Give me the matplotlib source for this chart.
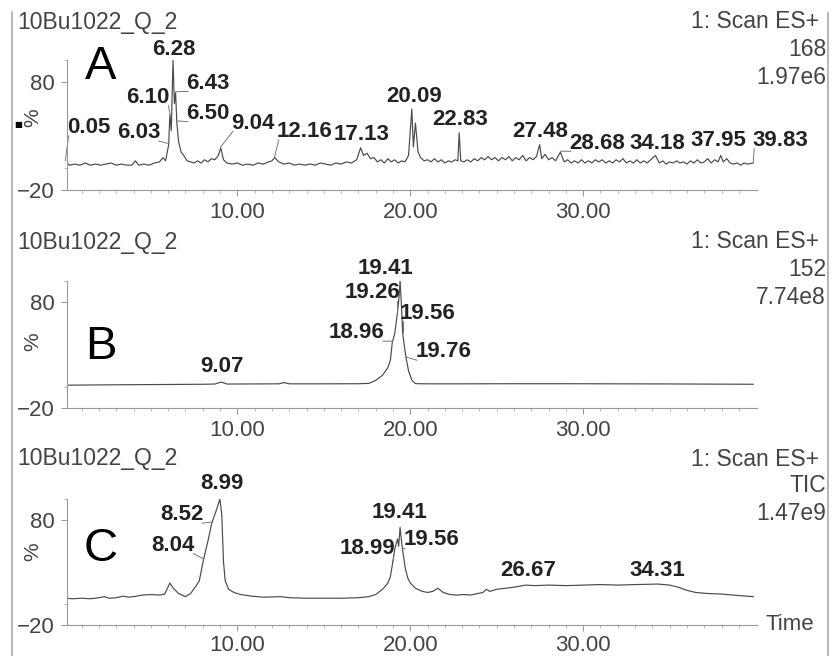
import matplotlib.pyplot as plt
from matplotlib.ticker import FixedLocator, FixedFormatter

plt.rcParams['font.family'] = ['Liberation Sans', 'DejaVu Sans']

# run / trace header info
run_name = '10Bu1022_Q_2'
scan_mode = '1: Scan ES+'
panel_letters = ['A', 'B', 'C']
channels = ['168', '152', 'TIC']
max_counts = ['1.97e6', '7.74e8', '1.47e9']
x_ticks = [10.0, 20.0, 30.0]
y_ticks = [-20, 80]

# m/z 168 chromatogram (time in min, relative intensity %)
a_time = [0.05, 0.3, 0.6, 0.9, 1.2, 1.5, 1.8, 2.1, 2.4, 2.7, 3.0, 3.3, 3.6, 3.9,
          4.1, 4.3, 4.6, 4.9, 5.2, 5.5, 5.7, 5.85, 6.03, 6.10, 6.18, 6.28, 6.36,
          6.43, 6.50, 6.6, 6.75, 6.9, 7.1, 7.3, 7.5, 7.7, 7.9, 8.1, 8.3, 8.5, 8.7,
          8.9, 9.04, 9.2, 9.4, 9.7, 10.0, 10.3, 10.6, 10.9, 11.2, 11.5, 11.8, 12.0,
          12.16, 12.4, 12.7, 13.0, 13.3, 13.6, 13.9, 14.2, 14.5, 14.8, 15.1, 15.4,
          15.7, 16.0, 16.3, 16.6, 16.9, 17.13, 17.3, 17.5, 17.7, 17.9, 18.1, 18.3,
          18.5, 18.7, 18.9, 19.1, 19.3, 19.5, 19.7, 19.9, 20.09, 20.18, 20.3, 20.45,
          20.6, 20.8, 21.0, 21.2, 21.4, 21.6, 21.8, 22.0, 22.2, 22.4, 22.6, 22.75,
          22.83, 22.92, 23.1, 23.3, 23.5, 23.7, 23.9, 24.1, 24.3, 24.5, 24.7, 24.9,
          25.1, 25.3, 25.5, 25.7, 25.9, 26.1, 26.3, 26.5, 26.7, 26.9, 27.1, 27.3,
          27.48, 27.6, 27.8, 28.0, 28.2, 28.4, 28.68, 28.9, 29.1, 29.3, 29.5, 29.7,
          29.9, 30.1, 30.3, 30.5, 30.7, 30.9, 31.1, 31.3, 31.5, 31.7, 31.9, 32.1,
          32.3, 32.5, 32.7, 32.9, 33.1, 33.3, 33.5, 33.7, 33.9, 34.18, 34.4, 34.6,
          34.8, 35.0, 35.2, 35.4, 35.6, 35.8, 36.0, 36.2, 36.4, 36.6, 36.8, 37.0,
          37.2, 37.4, 37.6, 37.8, 37.95, 38.1, 38.3, 38.5, 38.7, 38.9, 39.1, 39.3,
          39.5, 39.83]
a_pct = [6, 3, 4, 3, 5, 3, 4, 3, 4, 5, 3, 4, 3, 3,
         7, 3, 4, 3, 5, 6, 10, 7, 22, 50, 35, 100, 60,
         70, 43, 25, 15, 12, 7, 6, 5, 7, 5, 8, 6, 9, 8,
         12, 19, 8, 5, 4, 5, 3, 4, 3, 5, 4, 6, 7,
         10, 6, 4, 5, 3, 4, 3, 4, 3, 5, 4, 3,
         5, 4, 6, 5, 8, 19, 12, 14, 9, 10, 6, 8,
         5, 9, 6, 8, 5, 7, 6, 12, 55, 20, 42, 15,
         10, 7, 8, 6, 9, 6, 8, 5, 7, 6, 8, 7,
         33, 7, 6, 8, 6, 9, 7, 10, 8, 11, 8, 10,
         7, 10, 8, 11, 7, 10, 8, 12, 7, 10, 8, 11,
         22, 9, 13, 8, 10, 7, 15, 6, 8, 5, 7, 5,
         8, 5, 7, 5, 8, 6, 8, 5, 7, 5, 8, 6,
         9, 5, 7, 5, 8, 5, 7, 5, 8, 12, 5, 7,
         4, 6, 5, 7, 5, 6, 4, 7, 5, 8, 5, 6,
         9, 5, 8, 6, 12, 6, 9, 5, 4, 5, 3, 5,
         4, 5]
a_peaks = [0.05, 6.03, 6.10, 6.28, 6.43, 6.50, 9.04, 12.16, 17.13, 20.09,
           22.83, 27.48, 28.68, 34.18, 37.95, 39.83]

# m/z 152 chromatogram
b_time = [0.05, 2.0, 4.0, 6.0, 8.0, 8.7, 9.07, 9.4, 11.0, 12.4, 12.7, 13.0, 15.0,
          17.0, 17.6, 18.0, 18.4, 18.7, 18.85, 18.96, 19.1, 19.26, 19.35, 19.41,
          19.48, 19.56, 19.66, 19.76, 19.9, 20.1, 20.3, 21.0, 23.0, 26.0, 29.0,
          32.0, 35.0, 38.0, 39.83]
b_pct = [1.5, 1.8, 2.0, 2.2, 2.4, 2.6, 4.5, 2.6, 2.7, 2.8, 4.0, 2.8, 2.8,
         2.9, 3.2, 6, 11, 18, 25, 42, 50, 70, 85, 100,
         80, 51, 38, 27, 15, 6, 3, 2.8, 2.8, 2.9, 2.9,
         2.8, 2.7, 2.5, 2.4]
b_peaks = [9.07, 18.96, 19.26, 19.41, 19.56, 19.76]

# total ion current
c_time = [0.05, 0.5, 1.0, 1.5, 2.0, 2.3, 2.6, 3.0, 3.4, 3.7, 4.0, 4.5, 5.0, 5.5,
          5.8, 6.1, 6.3, 6.6, 7.0, 7.3, 7.6, 7.8, 8.04, 8.3, 8.52, 8.8, 8.99, 9.1,
          9.2, 9.3, 9.5, 9.8, 10.2, 10.8, 11.5, 12.5, 13.0, 14.0, 15.0, 16.0, 17.0,
          17.6, 18.0, 18.4, 18.7, 18.85, 18.99, 19.1, 19.26, 19.33, 19.41, 19.49,
          19.56, 19.7, 19.85, 20.0, 20.3, 20.7, 21.0, 21.3, 21.6, 21.9, 22.3, 22.7,
          23.1, 23.5, 23.9, 24.2, 24.4, 24.6, 25.0, 25.5, 26.0, 26.67, 27.2, 28.0,
          29.0, 30.0, 31.0, 32.0, 33.0, 34.31, 35.0, 35.5, 36.0, 36.5, 37.2, 38.0,
          39.0, 39.83]
c_pct = [5.5, 5, 5.5, 5, 6, 7, 5.5, 6, 7.5, 6.5, 7, 8.5, 9, 8.5,
         9.5, 20, 15, 10, 7, 10, 17, 22, 42, 60, 77, 90, 100, 85,
         40, 22, 14, 11, 9, 7.5, 6.5, 7, 6, 5.5, 5.5, 5.5, 6,
         7, 9, 14, 20, 26, 40, 52, 62, 55, 73, 60,
         51, 35, 25, 20, 15, 12, 11, 12, 15, 11, 9, 8.5,
         9, 8.5, 10, 11, 14, 12, 14, 15, 16, 18, 17.5, 18,
         17.5, 18, 18.5, 18, 18.5, 19, 18, 16, 13, 11, 10, 9.5,
         8, 7]
c_peaks = [8.04, 8.52, 8.99, 18.99, 19.41, 19.56, 26.67, 34.31]

# label text centres (data coordinates)
a_label_xy = [(1.4, 38), (4.3, 33), (4.85, 66), (6.3, 110), (8.3, 79), (8.3, 51),
              (10.9, 42), (13.9, 34), (17.2, 31), (20.2, 67), (22.9, 45),
              (27.5, 34), (30.8, 23.5), (34.3, 23.5), (37.8, 26), (41.4, 26)]
b_label_xy = [(9.13, 18.7), (16.9, 51), (17.8, 88.5), (18.55, 112), (21.0, 69.6),
              (21.9, 33)]
c_label_xy = [(6.3, 56), (6.8, 85), (9.13, 115), (17.5, 53), (19.4, 86.7),
              (21.2, 61), (26.8, 32), (34.3, 32)]

W, H = 832, 656
fig = plt.figure(figsize=(W / 100, H / 100), dpi=100)

# axes boxes in pixels: (top, bottom) ; x from 67 to 757
boxes = [(60.4, 190), (280.8, 408), (499, 625)]
header_y = [22, 242, 459]
letter_y = [67, 347, 549]
pct_y = [118, 342, 552]
xpad = [5, 5, 3]

traces = [(a_time, a_pct, a_peaks, a_label_xy),
          (b_time, b_pct, b_peaks, b_label_xy),
          (c_time, c_pct, c_peaks, c_label_xy)]

axes = []
for i, (top, bottom) in enumerate(boxes):
    ax = fig.add_axes([67 / W, 1 - bottom / H, 690 / W, (bottom - top) / H])
    t, pct, peaks, label_xy = traces[i]
    ax.plot(t, pct, color='#4a4a4a', lw=0.85)
    ax.set_xlim(0.15, 40.05)
    ax.set_ylim(-20, 100)
    for s in ['top', 'right']:
        ax.spines[s].set_visible(False)
    for s in ['left', 'bottom']:
        ax.spines[s].set_color('#999999')
        ax.spines[s].set_linewidth(0.8)
    ax.xaxis.set_major_locator(FixedLocator(x_ticks))
    ax.xaxis.set_major_formatter(FixedFormatter(['%.2f' % v for v in x_ticks]))
    ax.xaxis.set_minor_locator(FixedLocator([v for v in range(1, 41) if v % 10]))
    ax.yaxis.set_major_locator(FixedLocator(y_ticks))
    ax.yaxis.set_minor_locator(FixedLocator([0, 100]))
    ax.tick_params(which='major', length=4, width=0.7, color='#999999',
                   labelsize=16, labelcolor='#444444')
    ax.tick_params(which='minor', length=2.5, width=0.6, color='#aaaaaa')
    ax.tick_params(axis='x', pad=xpad[i])
    ax.tick_params(axis='y', pad=5)

    # peak labels
    lookup = dict(zip(t, pct))
    texts = []
    for pk, (lx, ly) in zip(peaks, label_xy):
        texts.append(ax.text(lx, ly, '%.2f' % pk, ha='center', va='center',
                             fontsize=16, fontweight='bold', color='#222222'))
    axes.append((ax, peaks, texts, lookup))

# leader lines from each peak to its label
fig.canvas.draw()
renderer = fig.canvas.get_renderer()
for ax, peaks, texts, lookup in axes:
    inv = ax.transData.inverted()
    for pk, txt in zip(peaks, texts):
        bb = txt.get_window_extent(renderer)
        (x0, y0), (x1, y1) = inv.transform([[bb.x0, bb.y0], [bb.x1, bb.y1]])
        py = lookup[pk]
        if x0 + 0.3 < pk < x1 - 0.3:
            continue
        ex = min(max(pk, x0 + 0.1), x1 - 0.1)
        ey = y0 + 2
        ax.plot([pk, ex], [py + 1, ey], color='#777777', lw=0.7, clip_on=False)

for i in range(3):
    fig.text(17 / W, 1 - header_y[i] / H, run_name, fontsize=16.5, color='#444444',
             ha='left', va='center')
    fig.text(819 / W, 1 - header_y[i] / H, scan_mode, fontsize=16.5, color='#444444',
             ha='right', va='center')
    fig.text(826 / W, 1 - (header_y[i] + 27) / H, channels[i], fontsize=16.5,
             color='#444444', ha='right', va='center')
    fig.text(826 / W, 1 - (header_y[i] + 55) / H, max_counts[i], fontsize=16.5,
             color='#444444', ha='right', va='center')
    fig.text(101 / W, 1 - letter_y[i] / H, panel_letters[i], fontsize=34,
             color='black', ha='center', va='center')
    fig.text(33 / W, 1 - pct_y[i] / H, '%', fontsize=15, color='#444444',
             rotation=90, ha='center', va='center')

fig.text(18 / W, 1 - 125 / H, '\u25a0', fontsize=6, color='black',
         family='DejaVu Sans', ha='center', va='center')
fig.text(790 / W, 1 - 625 / H, 'Time', fontsize=16, color='#444444',
         ha='center', va='center')

# frame lines at left and right edges
fig.add_artist(plt.Line2D([12 / W, 12 / W], [0, 1 - 12 / H], color='#aaaaaa', lw=1.2))
fig.add_artist(plt.Line2D([828 / W, 828 / W], [0, 1 - 13 / H], color='#aaaaaa', lw=1.2))

fig.savefig('out.png', dpi=100)
